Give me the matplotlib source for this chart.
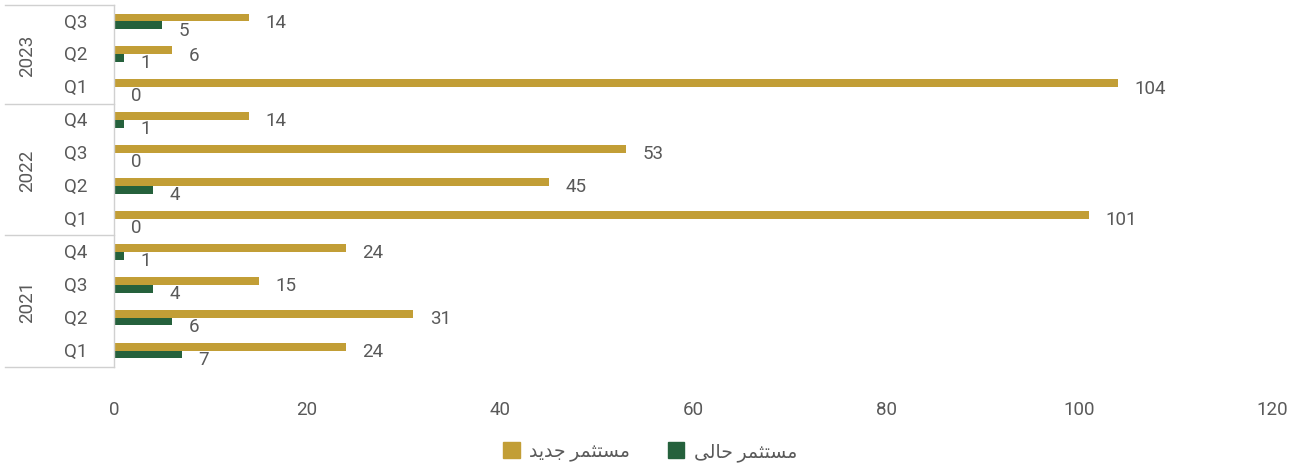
#!/usr/bin/env python3
"""
مستثمر جديد / مستثمر حالى - horizontal bars by quarter
"""
import matplotlib
matplotlib.use('Agg')
import matplotlib.pyplot as plt
import matplotlib.transforms as mtransforms
from matplotlib.patches import Patch
import numpy as np

plt.rcParams['font.family'] = ['Roboto', 'DejaVu Sans']

# data, bottom to top
years = ['2021', '2022', '2023']
quarters = ['Q1', 'Q2', 'Q3', 'Q4', 'Q1', 'Q2', 'Q3', 'Q4', 'Q1', 'Q2', 'Q3']
year_of = ['2021'] * 4 + ['2022'] * 4 + ['2023'] * 3
new_inv = [24, 31, 15, 24, 101, 45, 53, 14, 104, 6, 14]
old_inv = [7, 6, 4, 1, 0, 4, 0, 1, 0, 1, 5]
x_ticks = [0, 20, 40, 60, 80, 100, 120]

# Arabic labels, shaped (presentation forms) and in visual order
# "مستثمر جديد" / "مستثمر حالى"
lbl_new = '\uFEAA\uFEF3\uFEAA\uFE9F \uFEAE\uFEE4\uFE9C\uFE98\uFEB4\uFEE3'
lbl_old = '\uFEF0\uFEDF\uFE8E\uFEA3 \uFEAE\uFEE4\uFE9C\uFE98\uFEB4\uFEE3'

GOLD = '#C29E36'
GREEN = '#25613C'
TXT = '#595959'
LINE = '#D0D0D0'

fig = plt.figure(figsize=(13, 4.64), dpi=100)
ax = fig.add_axes([0.0877, 0.207, 0.979 - 0.0877, 0.780])

y = np.arange(len(quarters))
h = 0.24
ax.barh(y + h / 2, new_inv, height=h, color=GOLD, label=lbl_new)
ax.barh(y - h / 2, old_inv, height=h, color=GREEN, label=lbl_old)

for i in range(len(y)):
    ax.annotate(str(new_inv[i]), (new_inv[i], y[i] + h / 2), xytext=(12, -3),
                textcoords='offset points', ha='left', va='center',
                fontsize=13.5, color=TXT)
    ax.annotate(str(old_inv[i]), (old_inv[i], y[i] - h / 2), xytext=(12, -3),
                textcoords='offset points', ha='left', va='center',
                fontsize=13.5, color=TXT)

ax.set_xlim(0, 120)
ax.set_ylim(-0.5, len(quarters) - 0.5)
ax.set_xticks(x_ticks)
ax.set_xticklabels([str(t) for t in x_ticks], fontsize=13.5, color=TXT)
ax.tick_params(axis='x', length=0, pad=24)
ax.set_yticks([])

for s in ['top', 'right', 'bottom']:
    ax.spines[s].set_visible(False)
ax.spines['left'].set_color(LINE)
ax.spines['left'].set_linewidth(1)

# category axis: quarters, years and separators
trans = mtransforms.blended_transform_factory(ax.transAxes, ax.transData)
for i, q in enumerate(quarters):
    ax.text(-0.023, y[i], q, transform=trans, ha='right', va='center',
            fontsize=13.5, color=TXT)

bounds = [-0.5, 3.5, 7.5, 10.5]
for b in bounds:
    ax.plot([-0.094, 0], [b, b], transform=trans, color=LINE, lw=1, clip_on=False)

for k, yr in enumerate(years):
    mid = (bounds[k] + bounds[k + 1]) / 2
    ax.text(-0.075, mid, yr, transform=trans, ha='center', va='center',
            rotation=90, fontsize=13.5, color=TXT)

handles = [Patch(color=GOLD, label=lbl_new), Patch(color=GREEN, label=lbl_old)]
fig.legend(handles=handles, loc='lower center', bbox_to_anchor=(0.5, -0.012),
           ncol=2, frameon=False, fontsize=13.5, labelcolor=TXT, borderaxespad=0,
           handlelength=0.9, handleheight=0.9, handletextpad=0.5, columnspacing=2.0)

plt.savefig('out.png', dpi=100)
